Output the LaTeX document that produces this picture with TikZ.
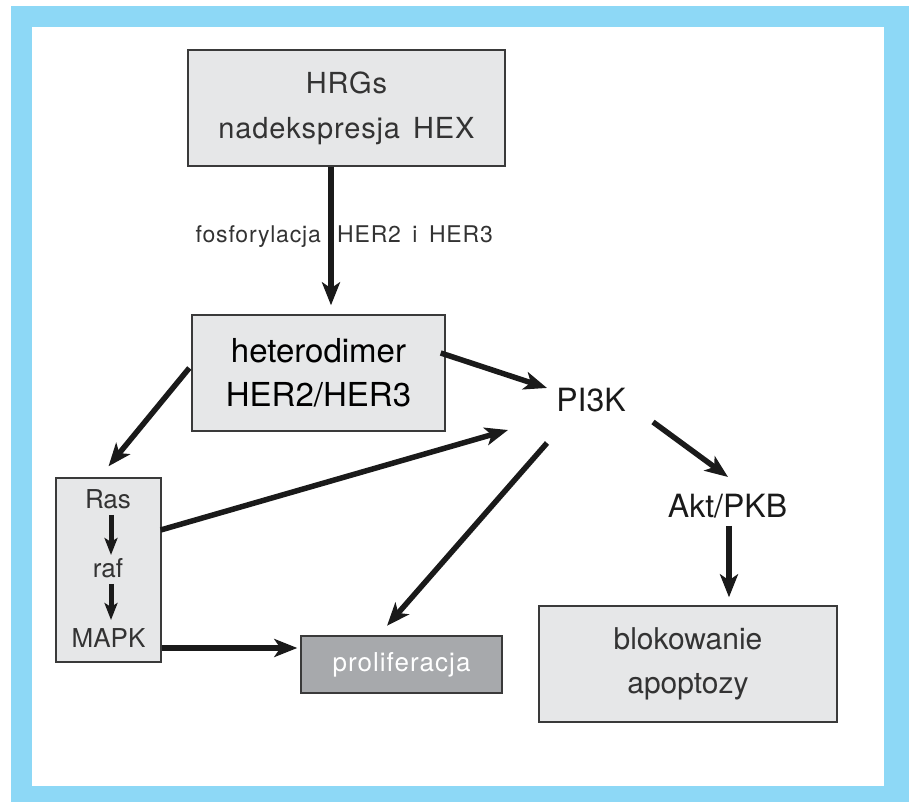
\documentclass[tikz,border=0pt]{standalone}
\usepackage{fontspec}
\setmainfont{TeX Gyre Heros}
\usetikzlibrary{arrows.meta}
\definecolor{frameblue}{HTML}{8DD8F6}
\definecolor{boxgray}{HTML}{E6E7E8}
\definecolor{darkbox}{HTML}{A7A9AC}
\definecolor{edgegray}{HTML}{3A3A3A}
\definecolor{txtgray}{HTML}{333333}
\definecolor{arrblack}{HTML}{1A1A1A}
\begin{document}
\begin{tikzpicture}[x=1pt,y=1pt,
  box/.style={draw=edgegray, line width=1.4pt, fill=boxgray, inner sep=0pt, align=center, text=txtgray},
  plain/.style={inner sep=0pt, text=arrblack},
  conn/.style={line width=5.5pt, draw=arrblack, -{Stealth[length=23pt,width=18pt,inset=6pt]}},
  smallconn/.style={line width=5pt, draw=arrblack, -{Stealth[length=17pt,width=13pt,inset=4pt]}}
]
\useasboundingbox (0,0) rectangle (909,802);
\fill[white] (0,0) rectangle (909,802);
\fill[frameblue] (11,0) rectangle (909,796);
\fill[white] (32,16) rectangle (884,775);

% boxes
\node[box, minimum width=317pt, minimum height=116pt,
      font=\fontsize{29}{45}\selectfont\addfontfeature{LetterSpace=3}] (top) at (346.5,694)
      {HRGs\\nadekspresja\hspace{0.45em}HEX};
\node[box, minimum width=253pt, minimum height=116pt, text=black,
      font=\fontsize{33}{44}\selectfont] (het) at (318.5,429)
      {heterodimer\\HER2/HER3};
\node[box, minimum width=105pt, minimum height=184pt] (rasbox) at (108.5,232) {};
\node[box, fill=darkbox, minimum width=201pt, minimum height=57pt, text=white,
      font=\fontsize{26}{30}\selectfont\addfontfeature{LetterSpace=4}] (prolif) at (401.5,137.5)
      {proliferacja};
\node[box, minimum width=298pt, minimum height=116pt,
      font=\fontsize{30}{44}\selectfont] (blok) at (688,138)
      {blokowanie\\apoptozy};

% plain labels
\node[plain, anchor=base, font=\fontsize{32}{36}\selectfont] (pi3k) at (591,390) {PI3K};
\node[plain, anchor=base, font=\fontsize{32}{36}\selectfont] (akt) at (727.5,284) {Akt/PKB};
\node[plain, anchor=base, text=txtgray, font=\fontsize{26}{30}\selectfont] (ras) at (108,293) {Ras};
\node[plain, anchor=base, text=txtgray, font=\fontsize{26}{30}\selectfont] (raf) at (108,224) {raf};
\node[plain, anchor=base, text=txtgray, font=\fontsize{26}{30}\selectfont] (mapk) at (108.5,154) {MAPK};

% connector label
\node[plain, anchor=base east, text=txtgray, font=\fontsize{23}{28}\selectfont\addfontfeature{LetterSpace=3.5}] (fos) at (321,559) {fosforylacja};
\node[plain, anchor=base west, text=txtgray, font=\fontsize{23}{28}\selectfont\addfontfeature{LetterSpace=3.5}] (her) at (337,559) {HER2\hspace{0.5em}i\hspace{0.5em}HER3};

% connectors
\draw[conn] ([xshift=-15.5pt]top.south) -- ([xshift=12.5pt,yshift=9pt]het.north);
\draw[conn] ([xshift=-5pt,yshift=20pt]het.east) -- ([xshift=-44pt,yshift=24pt]pi3k.base);
\draw[conn] ([xshift=-2pt,yshift=5pt]het.west) -- ([xshift=0pt,yshift=11pt]rasbox.north);
\draw[conn] ([xshift=-1pt,yshift=40pt]rasbox.east) -- ([xshift=-83pt,yshift=-18pt]pi3k.base);
\draw[conn] ([xshift=-44pt,yshift=-31pt]pi3k.base) -- ([xshift=-14.5pt,yshift=9.5pt]prolif.north);
\draw[conn] ([xshift=62pt,yshift=-10pt]pi3k.base) -- ([xshift=0.5pt,yshift=41pt]akt.base);
\draw[conn] ([xshift=1.5pt,yshift=-8pt]akt.base) -- ([xshift=41pt,yshift=8pt]blok.north);
\draw[conn] ([yshift=-78pt]rasbox.east) -- ([xshift=-3pt,yshift=16.5pt]prolif.west);
\draw[smallconn] ([xshift=3pt,yshift=-6pt]ras.base) -- ([xshift=3pt,yshift=23pt]raf.base);
\draw[smallconn] ([xshift=3pt,yshift=-6pt]raf.base) -- ([xshift=2.5pt,yshift=28pt]mapk.base);
\end{tikzpicture}
\end{document}
